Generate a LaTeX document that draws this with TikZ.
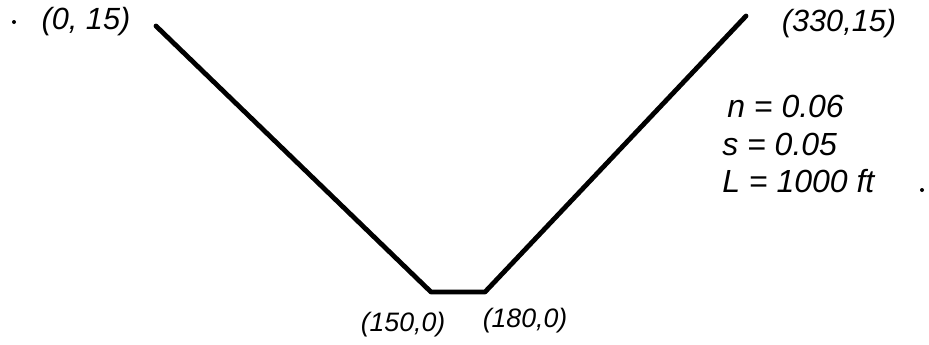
\documentclass[tikz,border=0pt]{standalone}
\usepackage{fontspec}
\setmainfont{Liberation Sans}
\begin{document}
\begin{tikzpicture}[x=0.75pt,y=-0.75pt,
  lbl/.style={font=\fontsize{20}{23}\selectfont\itshape, inner sep=0pt},
  toplbl/.style={lbl, font=\fontsize{23}{26}\selectfont\itshape},
  param/.style={lbl, anchor=west, font=\fontsize{24}{28}\selectfont\itshape},
  channel/.style={line width=3.6pt, line join=round, line cap=round},
  speck/.style={fill=black, circle, inner sep=0pt, minimum size=3pt}]
\useasboundingbox (0,0) rectangle (929,344);
% channel cross-section
\coordinate (tl) at (156,26);
\coordinate (bl) at (431,292);
\coordinate (br) at (485,292);
\coordinate (tr) at (746,16);
\draw[channel] (tl) -- (bl) -- (br) -- (tr);
% labels
\node[speck] (d1) at (14,22) {};
\node[toplbl] (ltl) at (86,22) {(0, 15)};
\node[toplbl] (ltr) at (839,24) {(330,15)};
\node[lbl] (lbl1) at (403,325) {(150,0)};
\node[lbl] (lbr) at (525,321) {(180,0)};
\node[param] (ln) at (727,106) {n = 0.06};
\node[param] (ls) at (722,144) {s = 0.05};
\node[param] (lL) at (722,181) {L = 1000 ft};
\node[speck] (d2) at (922,190) {};
\end{tikzpicture}
\end{document}
